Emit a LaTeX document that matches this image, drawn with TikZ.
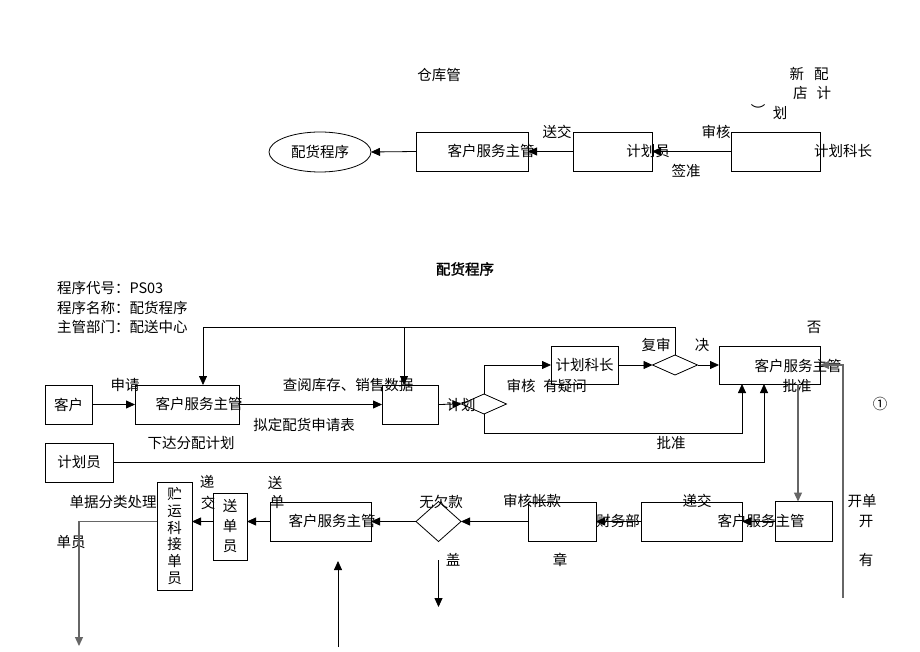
\documentclass[tikz,border=0pt]{standalone}
\usepackage{fontspec}
\setmainfont{Noto Sans CJK SC}
\newfontfamily\cjkbold[FakeBold=1.5]{Noto Sans CJK SC}
\usetikzlibrary{arrows.meta,shapes.geometric,calc}
\begin{document}
\begin{tikzpicture}[x=1pt,y=-1pt,
  every node/.style={font=\fontsize{14.5}{16}\selectfont, inner sep=0pt, outer sep=0pt},
  box/.style 2 args={draw, line width=0.8pt, rectangle, minimum width=#1, minimum height=#2},
  dia/.style 2 args={draw, line width=0.8pt, diamond, minimum width=#1, minimum height=#2},
  arr/.style={draw, line width=0.8pt, -{Triangle[length=9pt,width=8pt]}},
  ln/.style={draw, line width=0.8pt},
  garr/.style={draw=black!60, line width=1.2pt, -{Triangle[length=9pt,width=8pt]}}]
\fill[white] (0,0) rectangle (920,652);
\useasboundingbox (0,0) rectangle (920,652);

% ---------- top part ----------
\node (t1) at (439,75) {仓库管};
\node (t2) at (809,74) {新\hspace{10pt}配};
\node (t3) at (812,93) {店\hspace{9pt}计};
\node (t4) at (758,110) {︶};
\node (t5) at (780,113) {划};
\node[draw, ellipse, line width=0.8pt, minimum width=102pt, minimum height=40pt] (e1) at (320,152) {配货程序};
\node[box={112pt}{39pt}] (b1) at (472,151.5) {};
\node (b1t) at (491,151) {客户服务主管};
\node[box={79pt}{39pt}] (b2) at (612.5,151.5) {};
\node (b2t) at (648,151) {计划员};
\node[box={89pt}{39pt}] (b3) at (775.5,151.5) {};
\node (b3t) at (843,151) {计划科长};
\node (l1) at (557,132) {送交};
\node (l2) at (716,132) {审核};
\node (l3) at (686,171) {签准};
\draw[arr] (b3.west) -- (b2.east);
\draw[arr] (b2.west) -- (b1.east);
\draw[arr] (b1.west) -- (e1.east);

% ---------- title and info ----------
\node[font=\cjkbold\fontsize{14.5}{16}\selectfont] (title) at (465,269) {配货程序};
\node[anchor=west] (i1) at (57,288) {程序代号：PS03};
\node[anchor=west] (i2) at (57,308) {程序名称：配货程序};
\node[anchor=west] (i3) at (57,327) {主管部门：配送中心};

% ---------- middle row ----------
\node[box={47pt}{39pt}] (k) at (68.5,404.5) {客户};
\node[box={104pt}{39pt}] (c1) at (187,404.5) {};
\node (c1t) at (199,404) {客户服务主管};
\node[box={56pt}{39pt}] (m) at (410,404.5) {};
\node (jh) at (461,405) {计划};
\node[dia={45pt}{20pt}] (d1) at (484,404) {};
\node[box={67pt}{38pt}] (pk) at (584.5,365) {计划科长};
\node[dia={45pt}{20pt}] (d2) at (675,365) {};
\node[box={101pt}{38pt}] (c2) at (769.5,365) {};
\node (c2t) at (798,366) {客户服务主管};
\node (c2p) at (797,386) {批准};
\node[box={68pt}{39pt}] (p) at (79,462.5) {计划员};

\node (l4) at (125,385) {申请};
\node (l5) at (348,385) {查阅库存、销售数据};
\node (l6) at (304,425) {拟定配货申请表};
\node (l7) at (191,443) {下达分配计划};
\node (l8) at (521,386) {审核};
\node (l9) at (565,386) {有疑问};
\node (l10) at (671,443) {批准};
\node (l11) at (656,345) {复审};
\node (l12) at (702,345) {决};
\node (l13) at (814,327) {否};
\node (l14) at (880,404) {①};

\coordinate (fbL) at (203,327);
\coordinate (fbM) at (404,327);
\draw[ln] (d2.north) |- (fbL);
\draw[arr] (fbL) -- (fbL |- c1.north);
\draw[arr] (fbM) -- (fbM |- m.north);
\draw[arr] (k.east) -- (c1.west);
\draw[arr] (c1.east) -- (m.west);
\draw[arr] (m.east) -- (d1.west);
\draw[arr] (d1.north) |- (pk.west);
\draw[arr] (pk.east) -- (d2.west);
\draw[arr] (d2.east) -- (c2.west);
\coordinate (lowR) at (742,433);
\draw[arr] (d1.south) |- (lowR) -- (lowR |- c2.south);
\coordinate (pR) at (764,462.5);
\draw[arr] (p.east) -- (pR) -- (pR |- c2.south);
\coordinate (rb) at (843,598);
\draw[garr] (rb) |- (c2.east);

% ---------- lower row ----------
\node[box={57pt}{40pt}] (c3) at (803.5,521.5) {};
\node[box={101pt}{39pt}] (jd) at (691.5,521.5) {};
\node (c3t) at (761,521) {客户服务主管};
\node[box={68pt}{39pt}] (cw) at (562,521.5) {};
\node (cwt) at (618,521) {财务部};
\node[dia={45pt}{40pt}] (d3) at (438.5,521.5) {};
\node[box={101pt}{39pt}] (c4) at (320.5,521.5) {};
\node (c4t) at (332,521) {客户服务主管};
\node[box={34pt}{67pt}, align=center, font=\fontsize{14.5}{20}\selectfont] (sd) at (230,526.5) {送\\单\\员};
\node[box={35pt}{108pt}, align=center, font=\fontsize{14.5}{16.7}\selectfont] (zy) at (174.5,536) {贮\\运\\科\\接\\单\\员};

\node (l15) at (697,501) {递交};
\node (l16) at (862,501) {开单};
\node (l17) at (866,521) {开};
\node (l18) at (866,560) {有};
\node (l19) at (532,501) {审核帐款};
\node (l20) at (560,560) {章};
\node (l21) at (441,502) {无欠款};
\node (l22) at (453,560) {盖};
\node (l23) at (275,483) {送};
\node (l24) at (277,502) {单};
\node (l25) at (207,482) {递};
\node (l26) at (208,503) {交};
\node (l27) at (113,502) {单据分类处理};
\node (l28) at (71,542) {单员};

\coordinate (cd) at ([xshift=28.5pt]c2.south);
\draw[garr] (cd) -- (cd |- c3.north);
\draw[arr] (c3.west) -- (jd.east);
\draw[arr] (jd.west) -- (cw.east);
\draw[arr] (cw.west) -- (d3.east);
\draw[arr] (d3.west) -- (c4.east);
\draw[arr] (c4.west) -- (c4.west -| sd.east);
\draw[arr] (c4.west -| sd.west) -- (c4.west -| zy.east);
\coordinate (zl) at (79,646);
\draw[garr] (c4.west -| zy.west) -| (zl);
\coordinate (ga) at (438.5,560);
\coordinate (gb) at (438.5,607);
\draw[arr] (ga) -- (gb);
\coordinate (ua) at (338,647);
\coordinate (ub) at (338,561);
\draw[arr] (ua) -- (ub);
\end{tikzpicture}
\end{document}
